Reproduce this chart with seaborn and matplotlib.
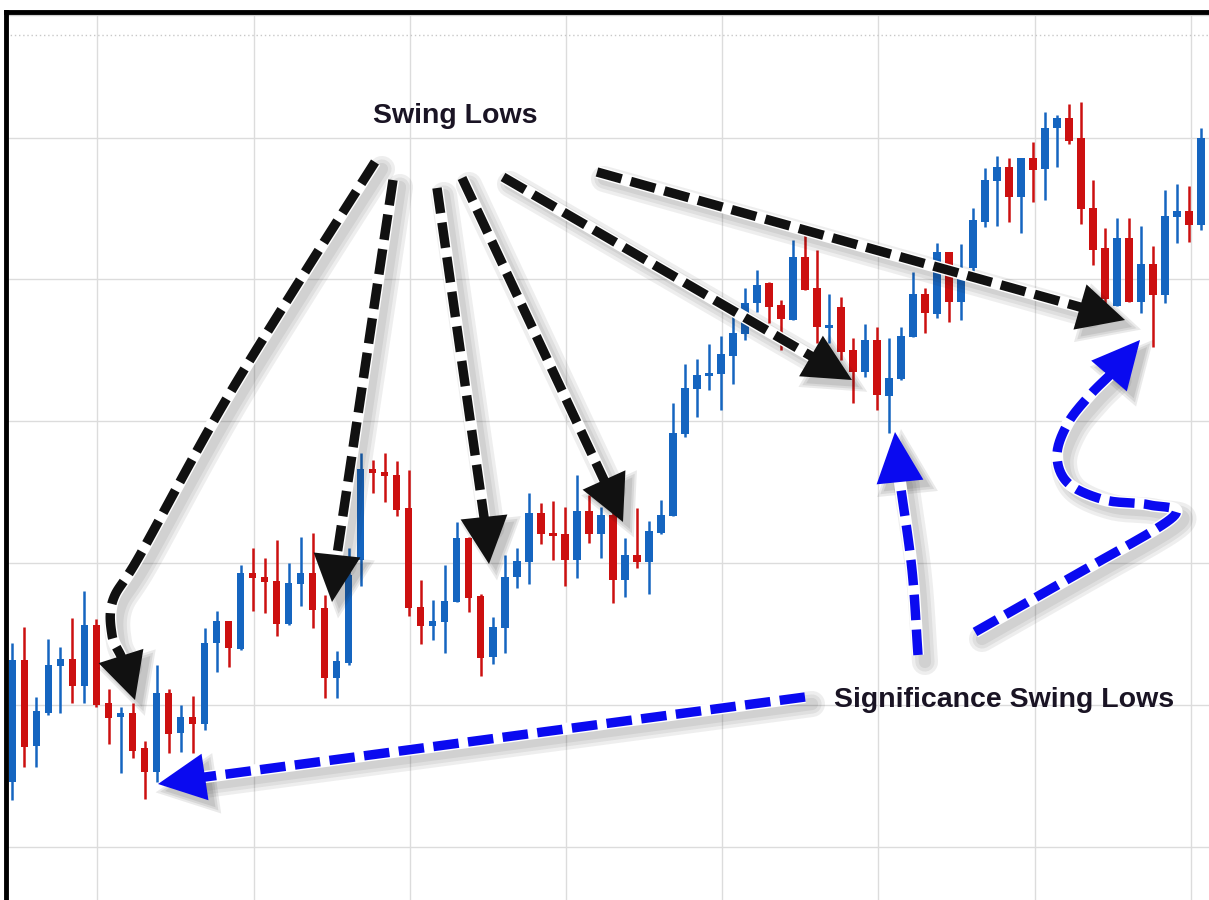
import numpy as np
import matplotlib
matplotlib.use('Agg')
import matplotlib.pyplot as plt
import matplotlib.transforms as mtransforms
from matplotlib.patches import Polygon
import seaborn as sns

# OHLC prices (in points), one candle per session
open_ = [118, 240, 154, 187, 234, 241, 214, 275, 197, 183,
         187, 152, 128, 207, 167, 183, 176, 257, 279, 251,
         327, 323, 319, 276, 316, 327, 292, 222, 237, 340,
         431, 428, 425, 392, 293, 274, 278, 298, 362, 304,
         243, 272, 323, 338, 387, 367, 366, 340, 389, 366,
         385, 320, 345, 338, 367, 384, 466, 511, 524, 526,
         544, 566, 597, 617, 595, 580, 643, 612, 572, 593,
         550, 528, 560, 504, 521, 563, 606, 586, 648, 598,
         632, 678, 719, 733, 703, 742, 731, 772, 782, 762,
         692, 652, 594, 662, 598, 636, 605, 683, 689, 675]
high = [257, 273, 203, 261, 253, 282, 309, 281, 211, 193,
        197, 159, 235, 211, 195, 204, 272, 289, 279, 335,
        352, 342, 360, 337, 363, 367, 305, 249, 352, 447,
        440, 447, 439, 430, 320, 300, 335, 378, 363, 306,
        283, 345, 352, 407, 397, 399, 393, 425, 405, 393,
        388, 362, 392, 379, 400, 497, 536, 541, 556, 564,
        587, 612, 630, 618, 600, 660, 665, 650, 606, 603,
        562, 576, 573, 562, 573, 628, 612, 657, 648, 656,
        692, 732, 744, 742, 742, 758, 788, 785, 796, 798,
        720, 672, 682, 682, 674, 654, 710, 716, 714, 772]
low = [100, 133, 133, 185, 187, 197, 197, 193, 156, 127,
       142, 101, 118, 147, 148, 147, 170, 228, 233, 250,
       289, 287, 264, 275, 294, 272, 202, 202, 235, 314,
       407, 398, 384, 284, 256, 260, 247, 298, 288, 224,
       236, 247, 312, 316, 356, 340, 314, 322, 357, 342,
       297, 303, 332, 306, 366, 384, 463, 483, 510, 490,
       516, 560, 588, 577, 550, 580, 610, 557, 557, 540,
       497, 523, 490, 467, 520, 563, 567, 582, 578, 580,
       628, 673, 674, 678, 667, 698, 700, 733, 756, 676,
       635, 597, 594, 598, 587, 553, 597, 657, 658, 670]
close = [240, 153, 189, 235, 241, 214, 275, 195, 182, 187,
         149, 128, 207, 166, 183, 176, 257, 279, 252, 327,
         322, 318, 276, 317, 327, 290, 222, 239, 325, 431,
         427, 424, 390, 292, 274, 279, 299, 362, 302, 242,
         273, 323, 339, 387, 366, 364, 340, 389, 366, 385,
         320, 345, 338, 369, 385, 467, 512, 525, 527, 546,
         567, 597, 615, 593, 581, 643, 610, 573, 575, 548,
         528, 560, 505, 522, 564, 606, 587, 648, 598, 623,
         680, 720, 733, 703, 742, 730, 772, 782, 759, 691,
         650, 601, 662, 598, 636, 605, 684, 689, 675, 762]

title_top = "Swing Lows"
title_bottom = "Significance Swing Lows"

BLUE = "#1565c0"
RED = "#cc1010"
W, H = 1209, 900

sns.set_theme(style="whitegrid")
plt.rcParams['font.family'] = ['Liberation Sans', 'DejaVu Sans']

fig = plt.figure(figsize=(W / 100, H / 100), dpi=100)
fig.patch.set_facecolor('white')
ax = fig.add_axes([5.5 / W, 0, 1 - 5.5 / W, 1 - 12 / H])
ax.set_facecolor('white')

# candles
x = np.arange(len(open_))
o = np.array(open_)
c = np.array(close)
colors = np.where(c >= o, BLUE, RED)
ax.vlines(x, low, high, colors=colors, lw=1.8, zorder=2)
ax.bar(x, np.maximum(np.abs(c - o), 3), bottom=np.minimum(o, c), width=0.64,
       color=colors, lw=0, zorder=3)

ax.set_xlim(-0.58, 99.67)
ax.set_ylim(0, 888)
ax.set_xticks(np.arange(7.08, 100, 13.01))
ax.set_yticks(53 + 141.9 * np.arange(6))
ax.tick_params(length=0, labelbottom=False, labelleft=False)
ax.grid(color='#dcdcdc', lw=1)
ax.axhline(865, color='#c8c8c8', lw=1, ls=(0, (1, 2)), zorder=1)
ax.axhline(885, color='#d0d0d0', lw=1, zorder=1)
for side in ['right', 'bottom']:
    ax.spines[side].set_visible(False)
for side in ['left', 'top']:
    ax.spines[side].set_color('black')
    ax.spines[side].set_linewidth(3.5)

# annotation layer in image pixel coordinates (y down)
img = mtransforms.Affine2D().scale(1 / W, -1 / H).translate(0, 1) + fig.transFigure


def smooth(pts, n=16):
    p = np.asarray(pts, float)
    if len(p) < 3:
        return p
    ext = np.vstack([2 * p[0] - p[1], p, 2 * p[-1] - p[-2]])
    t = np.linspace(0, 1, n, endpoint=False)[:, None]
    out = []
    for i in range(1, len(ext) - 2):
        p0, p1, p2, p3 = ext[i - 1], ext[i], ext[i + 1], ext[i + 2]
        out.append(0.5 * (2 * p1 + (-p0 + p2) * t
                          + (2 * p0 - 5 * p1 + 4 * p2 - p3) * t ** 2
                          + (-p0 + 3 * p1 - 3 * p2 + p3) * t ** 3))
    out.append(p[-1:])
    return np.vstack(out)


def dash_arrow(pts, tip, color, head_w=47, lw=6.8, sh=(7, 7)):
    path = smooth(pts)
    base = path[-1]
    d = np.asarray(tip, float) - base
    d = d / np.hypot(*d)
    nrm = np.array([-d[1], d[0]])
    shaft = np.vstack([path, base + d * 4])
    head = np.array([tip, base + nrm * head_w / 2, base - nrm * head_w / 2])
    # soft shadow
    for extra in [12, 7, 2]:
        ax.plot(shaft[:, 0] + sh[0], shaft[:, 1] + sh[1], color='k', alpha=0.07,
                lw=lw + extra, transform=img, solid_capstyle='round', zorder=5)
    for grow in [1.3, 1.15, 1.0]:
        cen = head.mean(axis=0)
        hs = cen + (head - cen) * grow + np.array(sh)
        ax.add_patch(Polygon(hs, closed=True, color='k', alpha=0.09, lw=0,
                             transform=img, zorder=5))
    ax.plot(shaft[:, 0], shaft[:, 1], color='white', lw=lw + 2, transform=img,
            solid_capstyle='butt', zorder=6)
    ax.plot(shaft[:, 0], shaft[:, 1], color=color, lw=lw, dashes=(2.7, 1.0),
            dash_capstyle='butt', transform=img, zorder=7)
    ax.add_patch(Polygon(head, closed=True, color=color, lw=0, transform=img, zorder=8))


# black arrows to swing lows
dash_arrow([(375, 162), (300, 280), (220, 410), (140, 555), (113, 600), (112, 635), (121, 656)],
           (135, 700), '#111111')
dash_arrow([(393, 180), (337, 555)], (332, 602), '#111111')
dash_arrow([(437, 188), (484, 517)], (489, 564), '#111111')
dash_arrow([(462, 178), (604, 480)], (623, 522), '#111111')
dash_arrow([(503, 177), (811, 356)], (852, 380), '#111111')
dash_arrow([(597, 172), (1080, 307)], (1125, 320), '#111111')

# blue arrows to significant swing lows
dash_arrow([(805, 697), (205, 777)], (158, 784), '#0a0af0')
dash_arrow([(918, 655), (912, 570), (900, 482)], (895, 432), '#0a0af0')
dash_arrow([(975, 632), (1075, 575), (1173, 517), (1150, 505), (1105, 500), (1068, 483),
            (1057, 455), (1068, 423), (1090, 395), (1109, 376)], (1140, 340), '#0a0af0')

ax.text(455, 116, title_top, transform=img, ha='center', va='center',
        fontsize=20.5, fontweight='bold', color='#1a1424', zorder=10)
ax.text(1004, 700, title_bottom, transform=img, ha='center', va='center',
        fontsize=20.5, fontweight='bold', color='#1a1424', zorder=10)

fig.savefig('out.png', dpi=100)
